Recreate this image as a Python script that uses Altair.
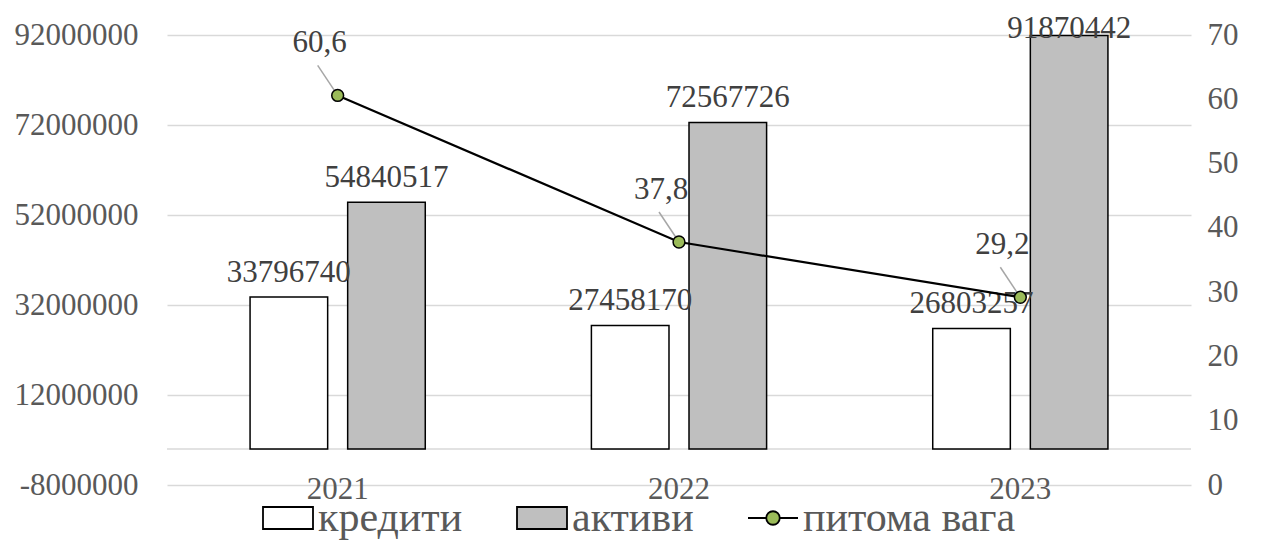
import altair as alt
import pandas as pd

# --- data -----------------------------------------------------------------
years = ["2021", "2022", "2023"]
credits = [33796740, 27458170, 26803257]      # кредити
assets = [54840517, 72567726, 91870442]       # активи
share = [60.6, 37.8, 29.2]                    # питома вага, %
series_names = ["кредити", "активи", "питома вага"]
left_ticks = [-8000000, 12000000, 32000000, 52000000, 72000000, 92000000]
right_ticks = [0, 10, 20, 30, 40, 50, 60, 70]

FONT = "Liberation Serif"
AXIS_GREY = "#595959"
LABEL_GREY = "#404040"
GRID = "#d9d9d9"

bars_df = pd.DataFrame({
    "year": years * 2,
    "series": [series_names[0]] * len(years) + [series_names[1]] * len(years),
    "value": credits + assets,
})
bars_df["label"] = bars_df["value"].map(lambda v: str(int(v)))

line_df = pd.DataFrame({"year": years, "share": share})
line_df["label"] = line_df["share"].map(lambda v: f"{v:.1f}".replace(".", ","))

zero_df = pd.DataFrame({"value": [0]})
legend_df = pd.DataFrame({"series": series_names})

# --- shared encodings -----------------------------------------------------
x_enc = alt.X(
    "year:N",
    scale=alt.Scale(paddingInner=0, paddingOuter=0),
    axis=alt.Axis(
        title=None, domain=False, ticks=False, grid=False, labelAngle=0,
        labelBaseline="alphabetic", labelPadding=13,
        labelFont=FONT, labelFontSize=31, labelColor=AXIS_GREY,
    ),
)

x_off = alt.XOffset(
    "series:N",
    scale=alt.Scale(domain=series_names[:2], paddingInner=0.205, paddingOuter=0.851),
)

left_scale = alt.Scale(domain=[-8000000, 92000000], nice=False, zero=False)
left_axis = alt.Axis(
    values=left_ticks, title=None, domain=False, ticks=False,
    grid=True, gridColor=GRID, gridWidth=1.3,
    labelPadding=29, labelFont=FONT, labelFontSize=31, labelColor=AXIS_GREY,
    labelExpr="datum.value < 0 ? '-' + format(-datum.value, 'd') : format(datum.value, 'd')",
)
y_left = alt.Y("value:Q", scale=left_scale, axis=left_axis)

y_right = alt.Y(
    "share:Q",
    scale=alt.Scale(domain=[0, 70], nice=False),
    axis=alt.Axis(
        orient="right", values=right_ticks, title=None, domain=False, ticks=False,
        grid=False, labelPadding=16, labelFont=FONT, labelFontSize=31,
        labelColor=AXIS_GREY, format="d",
    ),
)

# --- left axis: bars ------------------------------------------------------
zero_line = alt.Chart(zero_df).mark_rule(color=GRID, strokeWidth=1.6).encode(y=y_left)

bars = alt.Chart(bars_df).mark_bar(stroke="black", strokeWidth=1.5).encode(
    x=x_enc,
    xOffset=x_off,
    y=y_left,
    fill=alt.Fill(
        "series:N",
        scale=alt.Scale(domain=series_names[:2], range=["white", "#bfbfbf"]),
        legend=None,
    ),
)

# value labels sit above each bar, but never higher than the top of the plot
bar_labels = (
    alt.Chart(bars_df)
    .transform_calculate(label_pos="min(datum.value, 88000000)")
    .mark_text(font=FONT, fontSize=31, color=LABEL_GREY, baseline="alphabetic", dy=-15)
    .encode(
        x=x_enc, xOffset=x_off,
        y=alt.Y("label_pos:Q", scale=left_scale, axis=left_axis),
        text="label:N",
    )
)

left = alt.layer(zero_line, bars, bar_labels)

# --- right axis: share line -------------------------------------------------
line = alt.Chart(line_df).mark_line(color="black", strokeWidth=2.2).encode(
    x=x_enc, y=y_right
)

leaders = alt.Chart(line_df).mark_rule(
    color="#a6a6a6", strokeWidth=1.5,
    xOffset=-2, yOffset=-3, x2Offset=-20, y2Offset=-30,
).encode(x=x_enc, x2=alt.X2("year:N"), y=y_right, y2=alt.Y2("share:Q"))

points = alt.Chart(line_df).mark_point(
    filled=True, fill="#9bbb59", stroke="black", strokeWidth=1.5, size=140, opacity=1
).encode(x=x_enc, y=y_right)

line_labels = alt.Chart(line_df).mark_text(
    font=FONT, fontSize=31, color=LABEL_GREY, baseline="middle", dx=-18, dy=-52
).encode(x=x_enc, y=y_right, text="label:N")

# legend symbols: boxes for the bars, a line with a marker for the share
rect_sym = "M-1,-0.44H1V0.44H-1Z"
line_sym = ("M-1,0H-0.27M0.27,0H1"
            "M-0.27,0A0.27,0.27,0,1,1,0.27,0A0.27,0.27,0,1,1,-0.27,0Z")
shape_expr = "datum.value === '%s' ? '%s' : '%s'" % (series_names[2], line_sym, rect_sym)

legend_def = alt.Legend(
    title=None, orient="none", legendX=95, legendY=457, direction="horizontal",
    symbolSize=2500, symbolStrokeColor="black", symbolStrokeWidth=1.8,
    symbolOpacity=1, symbolType=alt.ExprRef(expr=shape_expr),
    labelFont=FONT, labelFontSize=42, labelColor=AXIS_GREY,
    labelOffset=4, columnPadding=50, labelLimit=400,
)

legend_layer = alt.Chart(legend_df).mark_point(
    filled=True, opacity=0, stroke="black"
).encode(
    fill=alt.Fill(
        "series:N",
        scale=alt.Scale(domain=series_names, range=["white", "#bfbfbf", "#9bbb59"]),
        legend=legend_def,
    ),
)

right = alt.layer(line, leaders, points, line_labels, legend_layer)

chart = (
    alt.layer(left, right)
    .resolve_scale(y="independent", fill="independent")
    .properties(
        width=1024, height=450,
        autosize=alt.AutoSizeParams(type="none"),
        padding={"left": 167, "top": 35, "right": 76, "bottom": 55},
        background="white",
    )
    .configure_view(stroke=None)
)

chart.save("out.html", embed_options={"renderer": "svg", "actions": False})
